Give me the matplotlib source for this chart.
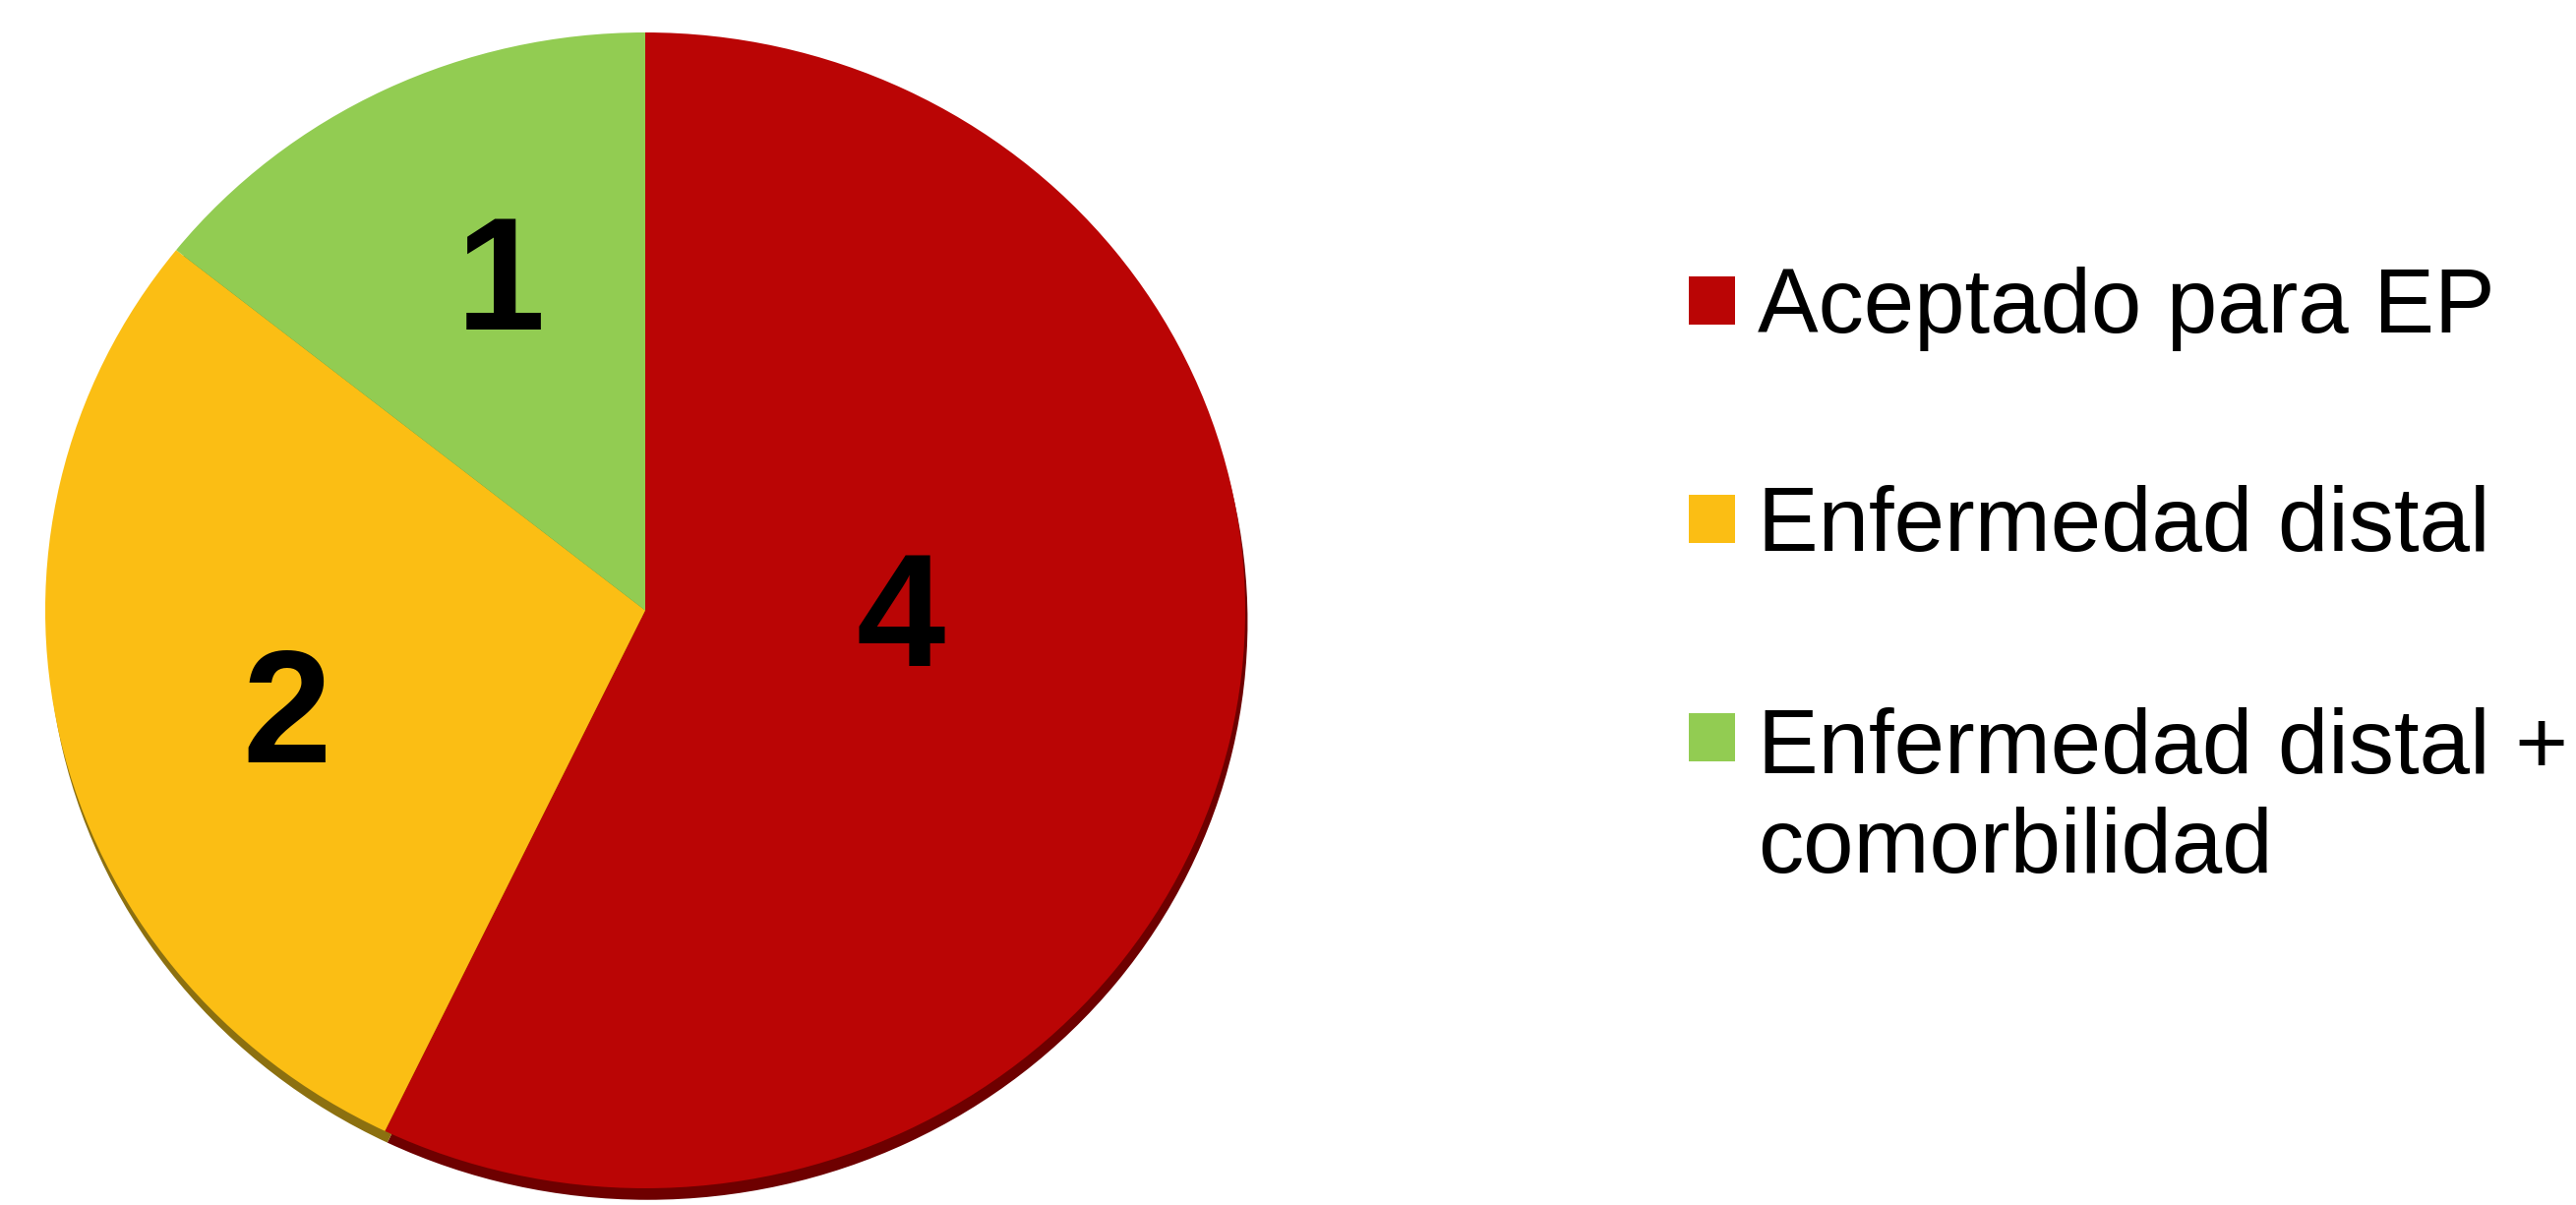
import matplotlib
matplotlib.use("Agg")
import matplotlib.pyplot as plt
from matplotlib.patches import Rectangle
import numpy as np

categories = ["Aceptado para EP", "Enfermedad distal", "Enfermedad distal +\ncomorbilidad"]
values = [4, 2, 1]
colors = ["#BA0505", "#FBBE14", "#92CC52"]
shadow_colors = ["#6E0000", "#8C7010", "#5E8A30"]
# label placement (style): radial distance and angular shift from wedge mid-angle
label_dist = [0.425, 0.62, 0.63]
label_shift = [12.9, 2.7, -3.2]
label_yoff = -0.024

plt.rcParams['font.family'] = ['Liberation Sans', 'DejaVu Sans']

W, H = 2619, 1225
fig = plt.figure(figsize=(W / 100, H / 100), dpi=100)
fig.patch.set_facecolor("white")

# pie axes in pixels: x 46..1266, y 33..1208 (from top)
left, right, top, bottom = 46, 1266, 33, 1208
ax = fig.add_axes([left / W, (H - bottom) / H, (right - left) / W, (bottom - top) / H])

# 3D side / shadow
ax.pie(values, colors=shadow_colors, startangle=90, counterclock=False,
       center=(0.004, -0.02), radius=1.0, wedgeprops=dict(linewidth=0))
wedges, texts, autotexts = ax.pie(
    values, colors=colors, startangle=90, counterclock=False,
    radius=1.0, wedgeprops=dict(linewidth=0),
    autopct=lambda p: f"{round(p * sum(values) / 100):d}", pctdistance=0.5)
for w, t, d, s in zip(wedges, autotexts, label_dist, label_shift):
    ang = np.deg2rad((w.theta1 + w.theta2) / 2 + s)
    t.set_position((d * np.cos(ang), d * np.sin(ang) + label_yoff))
    t.set_va("center"); t.set_ha("center")
    t.set_fontsize(117); t.set_fontweight("bold"); t.set_color("black")
ax.set_aspect("auto")
ax.set_xlim(-1, 1)
ax.set_ylim(-1, 1)
ax.axis("off")

# legend (drawn manually so the marker aligns with the first text line)
base0, step, line_step = 338, 222, 105
for i, (cat, col) in enumerate(zip(categories, colors)):
    b = base0 + step * i
    nextra = cat.count("\n")
    fig.add_artist(Rectangle((1717 / W, (H - (b - 8)) / H), 47 / W, 49 / H,
                             transform=fig.transFigure, facecolor=col, edgecolor="none"))
    fig.text(1787 / W, (H - b - nextra * line_step) / H, cat, fontsize=66.5,
             va="baseline", ha="left", color="black", linespacing=1.22)

fig.savefig("out.png", dpi=100, facecolor="white")
